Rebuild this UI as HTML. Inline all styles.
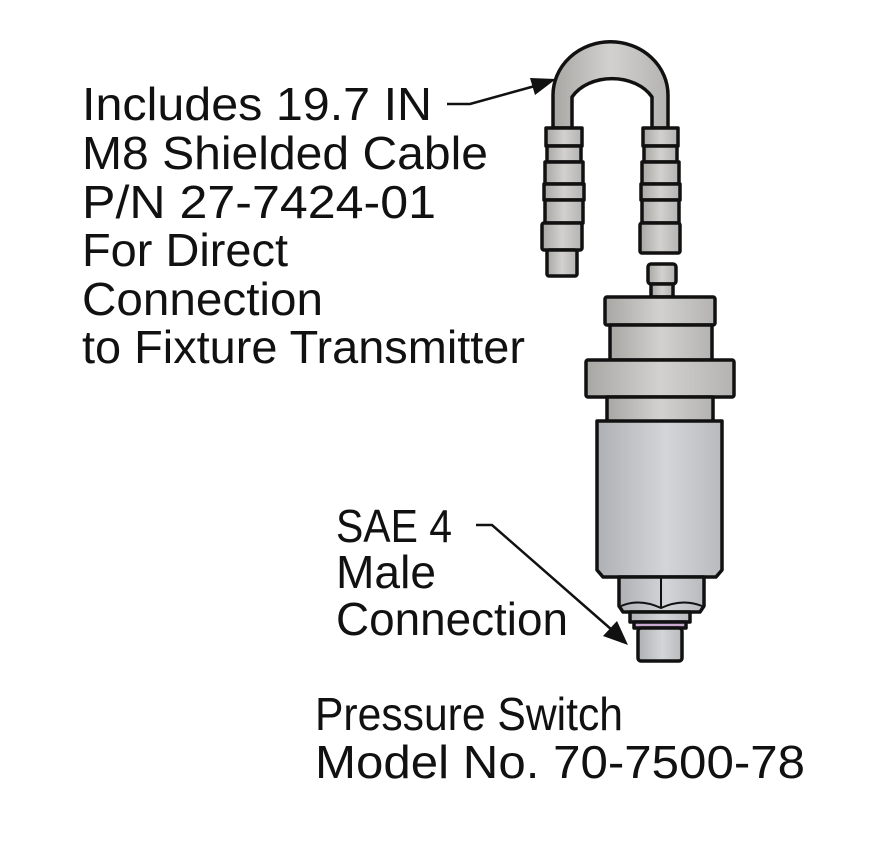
<!DOCTYPE html>
<html><head><meta charset="utf-8"><style>
html,body{margin:0;padding:0;background:#fff;}
svg{display:block}
text{font-family:"Liberation Sans",sans-serif;font-size:46px;fill:#111;}
</style></head><body>
<svg width="882" height="844" viewBox="0 0 882 844" xmlns="http://www.w3.org/2000/svg">
<defs>
<linearGradient id="g" x1="0" x2="1" y1="0" y2="0">
<stop offset="0" stop-color="#a9a7a4"/><stop offset="0.5" stop-color="#d2d1cf"/><stop offset="1" stop-color="#b4b3b1"/>
</linearGradient>
<linearGradient id="gb" x1="0" x2="1" y1="0" y2="0">
<stop offset="0" stop-color="#aeb0b3"/><stop offset="0.55" stop-color="#d3d5d8"/><stop offset="1" stop-color="#b8babd"/>
</linearGradient>
</defs>
<g stroke="#111" stroke-width="3.5" stroke-linejoin="round">
<!-- cable -->
<path d="M553,128 L553,95 A54,50 0 0 1 668,95 L668,128 L652,128 L652,97 A45,34 0 0 0 572,97 L572,128 Z" fill="url(#g)"/>
<!-- left connector -->
<rect x="546" y="128" width="36" height="18" fill="url(#g)"/>
<rect x="547" y="146" width="34" height="16" fill="url(#g)"/>
<rect x="545" y="162" width="38" height="22" fill="url(#g)"/>
<rect x="544" y="184" width="40" height="16" fill="url(#g)"/>
<rect x="545" y="200" width="38" height="23" fill="url(#g)"/>
<rect x="542" y="223" width="40" height="27" rx="2" fill="url(#g)"/>
<rect x="547" y="250" width="30" height="26" rx="2" fill="url(#g)"/>
<!-- right connector -->
<rect x="643" y="128" width="35" height="18" fill="url(#g)"/>
<rect x="644" y="146" width="33" height="16" fill="url(#g)"/>
<rect x="642" y="162" width="37" height="22" fill="url(#g)"/>
<rect x="641" y="184" width="39" height="16" fill="url(#g)"/>
<rect x="642" y="200" width="37" height="23" fill="url(#g)"/>
<rect x="640" y="223" width="40" height="30" rx="2" fill="url(#g)"/>
<!-- switch -->
<rect x="648" y="264" width="28" height="20" rx="3" fill="url(#g)"/>
<rect x="651" y="284" width="22" height="13" fill="url(#g)"/>
<rect x="605" y="297" width="110" height="28" rx="2" fill="url(#g)"/>
<rect x="610" y="325" width="102" height="35" fill="url(#g)"/>
<rect x="586" y="360" width="148" height="37" rx="2" fill="url(#g)"/>
<rect x="607" y="397" width="106" height="25" fill="url(#g)"/>
<path d="M597,421 L722,421 L722,570 L716,577 L603,577 L597,570 Z" fill="url(#gb)"/>
<path d="M619,577 L704,577 L704,606 L700,612 L623,612 L619,606 Z" fill="url(#gb)"/>
<line x1="661" y1="577" x2="661" y2="608" stroke-width="2"/>
<path d="M621,606 Q640,598 661,608 Q682,598 702,606" fill="none" stroke-width="2"/>
<rect x="630" y="612" width="60" height="10" fill="url(#gb)"/>
<rect x="634" y="622" width="52" height="6" fill="#c9a9cf"/>
<rect x="638" y="628" width="44" height="33" rx="3" fill="url(#gb)"/>
</g>
<!-- arrows -->
<g stroke="#111" stroke-width="2.5" fill="none">
<path d="M447,104 L470,104 L535,86"/>
<path d="M476,525 L492,525 L612,630"/>
</g>
<polygon points="556,79 530,78 535,95" fill="#111"/>
<polygon points="628,645 603,636 617,621" fill="#111"/>
<!-- text -->
<text x="82" y="120" textLength="350" lengthAdjust="spacingAndGlyphs">Includes 19.7 IN</text>
<text x="82" y="169" textLength="406" lengthAdjust="spacingAndGlyphs">M8 Shielded Cable</text>
<text x="82" y="218" textLength="354" lengthAdjust="spacingAndGlyphs">P/N 27-7424-01</text>
<text x="82" y="266" textLength="206" lengthAdjust="spacingAndGlyphs">For Direct</text>
<text x="82" y="315" textLength="241" lengthAdjust="spacingAndGlyphs">Connection</text>
<text x="82" y="363" textLength="443" lengthAdjust="spacingAndGlyphs">to Fixture Transmitter</text>
<text x="336" y="542" textLength="116" lengthAdjust="spacingAndGlyphs">SAE 4</text>
<text x="336" y="588" textLength="100" lengthAdjust="spacingAndGlyphs">Male</text>
<text x="336" y="635" textLength="232" lengthAdjust="spacingAndGlyphs">Connection</text>
<text x="315" y="730" textLength="308" lengthAdjust="spacingAndGlyphs">Pressure Switch</text>
<text x="315" y="778" textLength="490" lengthAdjust="spacingAndGlyphs">Model No. 70-7500-78</text>
</svg>
</body></html>
